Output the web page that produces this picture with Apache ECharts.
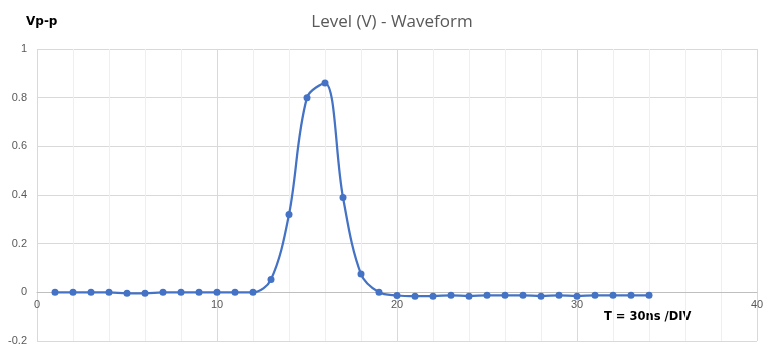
<!DOCTYPE html>
<html>
<head>
<meta charset="utf-8">
<script src="https://cdn.jsdelivr.net/npm/echarts@6/dist/echarts.min.js"></script>
<style>
  html, body { margin: 0; padding: 0; background: #fff; }
  #chart { width: 772px; height: 350px; }
</style>
</head>
<body>
<div id="chart"></div>
<script>
// Sample times (divisions) and measured levels in volts
var timeDiv = [1, 2, 3, 4, 5, 6, 7, 8, 9, 10, 11, 12, 13, 14, 15, 16, 17, 18, 19, 20,
               21, 22, 23, 24, 25, 26, 27, 28, 29, 30, 31, 32, 33, 34];
var levelV = [0, 0, 0, 0, -0.004, -0.004, 0, 0, 0, 0, 0, 0, 0.053, 0.32, 0.80, 0.86, 0.39, 0.075, 0, -0.013,
              -0.016, -0.016, -0.012, -0.016, -0.012, -0.012, -0.012, -0.016, -0.012, -0.016, -0.012, -0.012, -0.012, -0.012];

var chartTitle = 'Level (V) - Waveform';
var yName = 'Vp-p';
var xNote = 'T = 30ns /DIV';

var points = timeDiv.map(function (t, i) { return [t, levelV[i]]; });

var chart = echarts.init(document.getElementById('chart'));
chart.setOption({
  animation: false,
  backgroundColor: '#ffffff',
  title: {
    text: chartTitle,
    left: 387,
    top: 9,
    textAlign: 'center',
    textStyle: { fontFamily: 'Open Sans', fontSize: 17, fontWeight: 'normal', color: '#595959' }
  },
  graphic: [
    {
      type: 'text', left: 26, top: 16,
      style: { text: yName, font: 'bold 12px "DejaVu Sans"', fill: '#000000' }
    },
    {
      type: 'text', left: 604, top: 311,
      style: { text: xNote, font: 'bold 11.5px "DejaVu Sans"', fill: '#000000' }
    }
  ],
  grid: { left: 37, right: 15, top: 49, bottom: 9, outerBoundsMode: 'none' },
  xAxis: {
    type: 'value',
    min: 0, max: 40, interval: 10,
    axisLine: { onZero: true, lineStyle: { color: '#bfbfbf', width: 1 } },
    axisTick: { show: false },
    // labels sit just under the zero line rather than the frame bottom
    axisLabel: { color: '#595959', fontSize: 11, fontFamily: 'Liberation Sans', margin: -42, showMinLabel: true, showMaxLabel: true },
    splitLine: { show: true, lineStyle: { color: '#d9d9d9', width: 1 } },
    minorTick: { show: false, splitNumber: 5 },
    minorSplitLine: { show: true, lineStyle: { color: '#efefef', width: 1 } }
  },
  yAxis: {
    type: 'value',
    min: -0.2, max: 1, interval: 0.2,
    axisLine: { show: false },
    axisTick: { show: false },
    axisLabel: { color: '#595959', fontSize: 11, fontFamily: 'Liberation Sans', margin: 10,
      formatter: function (v) { return String(Math.round(v * 10) / 10); } },
    splitLine: { show: true, lineStyle: { color: '#d9d9d9', width: 1 } }
  },
  series: [{
    type: 'line',
    data: points,
    smooth: 0.35,
    symbol: 'circle',
    symbolSize: 7,
    lineStyle: { color: '#4472C4', width: 2.25 },
    itemStyle: { color: '#4472C4' }
  }]
});
</script>
</body>
</html>
